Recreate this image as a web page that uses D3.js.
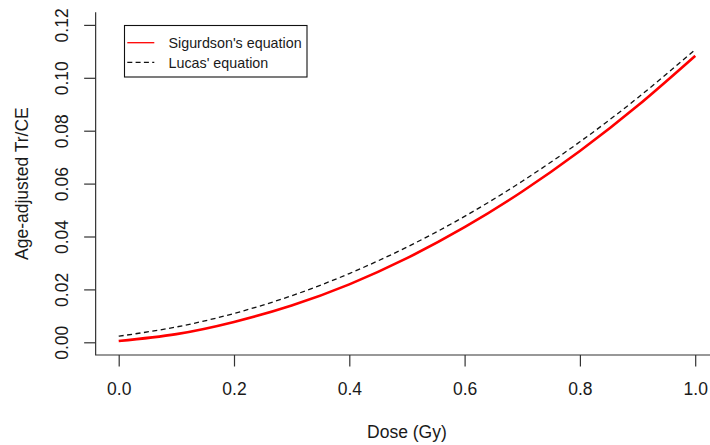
<!DOCTYPE html>
<html lang="en">
  <head>
    <meta charset="UTF-8" />
    <title>Age-adjusted Tr/CE vs Dose</title>
    <script src="https://d3js.org/d3.v7.min.js"></script>
    <style>
      body {
        margin: 0;
        background-color: #fff;
        font-family: "Liberation Sans", Arial, sans-serif;
      }

      svg {
        display: block;
      }

      .axis text {
        font-size: 17.5px;
        fill: #1a1a1a;
        font-family: "Liberation Sans", Arial, sans-serif;
      }

      .axis line {
        stroke: #333;
      }

      .axis-title {
        font-size: 17.5px;
        fill: #1a1a1a;
        text-anchor: middle;
      }

      .legend-text {
        font-size: 14.3px;
        fill: #1a1a1a;
      }
    </style>
  </head>
  <body>
    <svg id="chart" width="710" height="445"></svg>

    <script>
      // Dose (Gy) and the two curves
      const doses = [0, 0.1, 0.2, 0.3, 0.4, 0.5, 0.6, 0.7, 0.8, 0.9, 1.0];
      const sigurdson = [0.0005, 0.0031, 0.0077, 0.0139, 0.0219, 0.0318, 0.0435, 0.057, 0.0723, 0.0894, 0.1083];
      const lucas = [0.0023, 0.0058, 0.0109, 0.0176, 0.026, 0.036, 0.0476, 0.0609, 0.0758, 0.0924, 0.1106];

      const seriesNames = ["Sigurdson's equation", "Lucas' equation"];
      const xTicks = [0, 0.2, 0.4, 0.6, 0.8, 1.0];
      const yTicks = [0, 0.02, 0.04, 0.06, 0.08, 0.1, 0.12];

      const svg = d3.select("#chart");

      // R style plot region: data range plus 4% on each side
      const x = d3.scaleLinear().domain([0, 1]).range([118.7, 695.2]);
      const y = d3.scaleLinear().domain([0, 0.12]).range([342.3, 24.9]);
      const xPad = 0.04 * (x.domain()[1] - x.domain()[0]);
      const yPad = 0.04 * (y.domain()[1] - y.domain()[0]);
      const plotLeft = x(x.domain()[0] - xPad);
      const plotRight = x(x.domain()[1] + xPad);
      const plotBottom = y(y.domain()[0] - yPad);
      const plotTop = y(y.domain()[1] + yPad);

      // L shaped box
      svg
        .append("path")
        .attr("d", `M${plotLeft},${plotTop}V${plotBottom}H${plotRight}`)
        .attr("fill", "none")
        .attr("stroke", "#333")
        .attr("stroke-width", 1.2);

      // axes
      const xAxis = svg
        .append("g")
        .attr("class", "axis")
        .attr("transform", `translate(0,${plotBottom})`)
        .call(
          d3.axisBottom(x).tickValues(xTicks).tickSize(11.5).tickFormat(d3.format(".1f"))
        );
      xAxis.select(".domain").remove();
      xAxis.selectAll("line").attr("stroke-width", 1.2);
      xAxis.selectAll("text").attr("y", 40).attr("dy", 0);

      const yAxis = svg
        .append("g")
        .attr("class", "axis")
        .attr("transform", `translate(${plotLeft},0)`)
        .call(
          d3.axisLeft(y).tickValues(yTicks).tickSize(11.5).tickFormat(d3.format(".2f"))
        );
      yAxis.select(".domain").remove();
      yAxis.selectAll("line").attr("stroke-width", 1.2);
      yAxis
        .selectAll("text")
        .attr("x", 0)
        .attr("dy", 0)
        .attr("text-anchor", "middle")
        .attr("transform", "translate(-28,0) rotate(-90)");

      // axis titles
      svg
        .append("text")
        .attr("class", "axis-title")
        .attr("x", (plotLeft + plotRight) / 2)
        .attr("y", 437.5)
        .text("Dose (Gy)");

      svg
        .append("text")
        .attr("class", "axis-title")
        .attr("transform", `translate(28,${(plotTop + plotBottom) / 2}) rotate(-90)`)
        .text("Age-adjusted Tr/CE");

      // curves
      const line = (vals) =>
        d3
          .line()
          .x((d, i) => x(doses[i]))
          .y((d) => y(d))
          .curve(d3.curveNatural)(vals);

      svg
        .append("path")
        .attr("d", line(lucas))
        .attr("fill", "none")
        .attr("stroke", "#111")
        .attr("stroke-width", 1.3)
        .attr("stroke-dasharray", "5,3.5");

      svg
        .append("path")
        .attr("d", line(sigurdson))
        .attr("fill", "none")
        .attr("stroke", "#ff0000")
        .attr("stroke-width", 2.6);

      // legend
      const legend = svg.append("g");
      legend
        .append("rect")
        .attr("x", 124.5)
        .attr("y", 25.5)
        .attr("width", 182.5)
        .attr("height", 51.5)
        .attr("fill", "#fff")
        .attr("stroke", "#111")
        .attr("stroke-width", 1.1);

      const legendStyles = [
        { color: "#ff0000", width: 1.3, dash: null },
        { color: "#111", width: 1.2, dash: "5,3.3" },
      ];

      seriesNames.forEach((name, i) => {
        const ly = 42.7 + i * 19.6;
        legend
          .append("line")
          .attr("x1", 127.3)
          .attr("x2", 154.3)
          .attr("y1", ly)
          .attr("y2", ly)
          .attr("stroke", legendStyles[i].color)
          .attr("stroke-width", legendStyles[i].width)
          .attr("stroke-dasharray", legendStyles[i].dash);
        legend
          .append("text")
          .attr("class", "legend-text")
          .attr("x", 168.5)
          .attr("y", ly + 5.3)
          .text(name);
      });
    </script>
  </body>
</html>
